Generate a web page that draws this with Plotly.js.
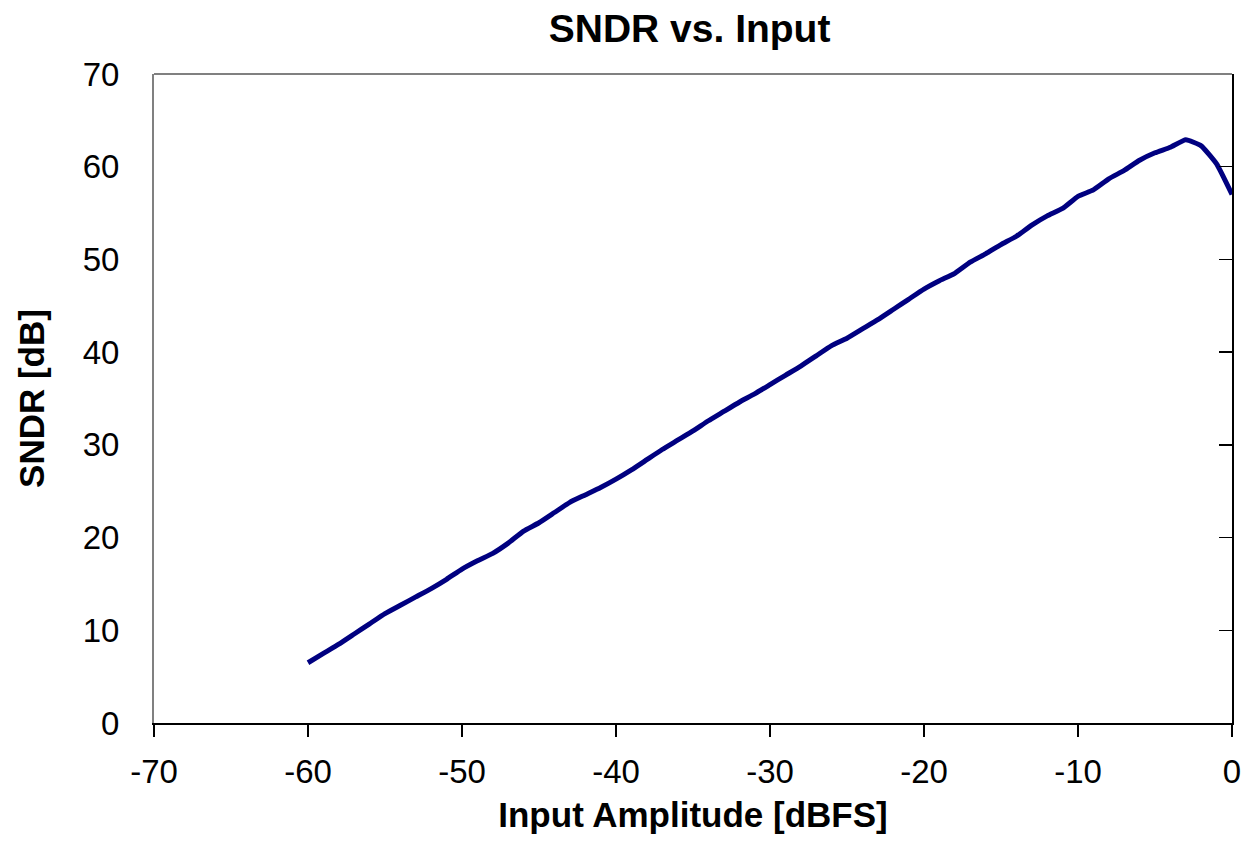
<!DOCTYPE html>
<html>
<head>
<meta charset="utf-8">
<script src="https://cdn.plot.ly/plotly-3.0.1.min.js"></script>
<style>
html,body{margin:0;padding:0;background:#fff;}
#chart{width:1247px;height:853px;}
</style>
</head>
<body>
<div id="chart"></div>
<script>
const inputAmplitude = [-60,-59,-58,-57,-56,-55,-54,-53,-52,-51,-50,-49,-48,-47,-46,-45,-44,-43,-42,-41,-40,-39,-38,-37,-36,-35,-34,-33,-32,-31,-30,-29,-28,-27,-26,-25,-24,-23,-22,-21,-20,-19,-18,-17,-16,-15,-14,-13,-12,-11,-10,-9,-8,-7,-6,-5,-4,-3,-2,-1,0];
const sndr = [6.5,7.5,8.5,9.6,10.7,11.8,12.7,13.6,14.5,15.5,16.6,17.5,18.3,19.4,20.7,21.6,22.7,23.8,24.6,25.4,26.3,27.3,28.4,29.5,30.5,31.5,32.6,33.6,34.6,35.5,36.5,37.5,38.5,39.6,40.7,41.5,42.5,43.5,44.6,45.7,46.8,47.7,48.5,49.7,50.6,51.6,52.5,53.7,54.7,55.5,56.8,57.5,58.7,59.6,60.7,61.5,62.1,62.9,62.25,60.3,57.0];
const xTicks = [-70,-60,-50,-40,-30,-20,-10,0];
const yTicks = [0,10,20,30,40,50,60,70];

const font = 'Liberation Sans, Arial, sans-serif';

const trace = {
  x: inputAmplitude, y: sndr, type: 'scatter', mode: 'lines',
  line: {color: '#000080', width: 5, shape: 'spline', smoothing: 0.4},
  hoverinfo: 'skip', showlegend: false
};
const ghost = {x: [-70, 0], y: [0, 70], yaxis: 'y2', type: 'scatter', mode: 'none', hoverinfo: 'skip', showlegend: false};

const layout = {
  width: 1247, height: 853,
  margin: {l: 154, r: 15, t: 74, b: 130},
  paper_bgcolor: '#fff', plot_bgcolor: '#fff',
  font: {family: font, color: '#000'},
  title: {text: 'SNDR vs. Input', font: {family: font, size: 39, weight: 'bold', color: '#000'}, x: 0.553, xanchor: 'center', y: 0.967, yanchor: 'middle'},
  xaxis: {
    range: [-70, 0], tickvals: xTicks, ticktext: xTicks.map(String),
    showgrid: false, zeroline: false,
    showline: true, linecolor: '#000', linewidth: 2,
    ticks: 'outside', ticklen: 12, tickcolor: '#000', tickwidth: 1.5,
    tickfont: {family: font, size: 33, color: '#000'},
    ticklabelstandoff: 6,
    title: {text: 'Input Amplitude [dBFS]', font: {family: font, size: 35, weight: 'bold', color: '#000'}, standoff: 14}
  },
  yaxis: {
    range: [0, 70], tickvals: yTicks, ticktext: yTicks.map(String),
    showgrid: false, zeroline: false,
    showline: true, linecolor: '#808080', linewidth: 2,
    ticks: '', tickfont: {family: font, size: 33, color: '#000'},
    ticklabelstandoff: 26,
    title: {text: 'SNDR [dB]', font: {family: font, size: 35, weight: 'bold', color: '#000'}, standoff: 27}
  },
  yaxis2: {
    range: [0, 70], tickvals: yTicks, overlaying: 'y', side: 'right',
    showgrid: false, zeroline: false, showticklabels: false,
    showline: true, linecolor: '#000', linewidth: 2,
    ticks: 'inside', ticklen: 13, tickcolor: '#000', tickwidth: 1.5
  },
  shapes: [
    {type: 'line', xref: 'paper', yref: 'paper', x0: 0, x1: 1, y0: 1, y1: 1, line: {color: '#808080', width: 2}}
  ]
};

Plotly.newPlot('chart', [trace, ghost], layout, {displayModeBar: false, staticPlot: true});
</script>
</body>
</html>
